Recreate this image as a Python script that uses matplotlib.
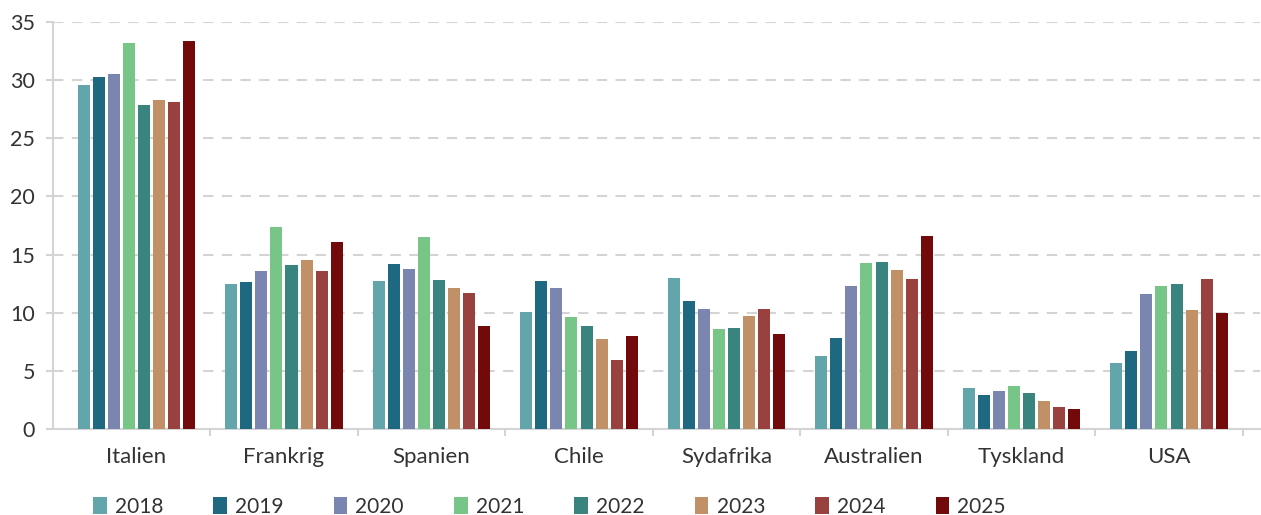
import numpy as np
import matplotlib
matplotlib.use("Agg")
import matplotlib.pyplot as plt

# data
countries = ["Italien", "Frankrig", "Spanien", "Chile", "Sydafrika", "Australien", "Tyskland", "USA"]
years = ["2018", "2019", "2020", "2021", "2022", "2023", "2024", "2025"]

v2018 = [29.6, 12.5, 12.7, 10.1, 13.0, 6.3, 3.5, 5.7]
v2019 = [30.3, 12.6, 14.2, 12.7, 11.0, 7.8, 2.9, 6.7]
v2020 = [30.5, 13.6, 13.8, 12.1, 10.3, 12.3, 3.3, 11.6]
v2021 = [33.2, 17.4, 16.5, 9.6, 8.6, 14.3, 3.7, 12.3]
v2022 = [27.9, 14.1, 12.8, 8.9, 8.7, 14.4, 3.1, 12.5]
v2023 = [28.3, 14.5, 12.1, 7.7, 9.7, 13.7, 2.4, 10.2]
v2024 = [28.1, 13.6, 11.7, 5.9, 10.3, 12.9, 1.9, 12.9]
v2025 = [33.4, 16.1, 8.9, 8.0, 8.2, 16.6, 1.7, 10.0]
series = [v2018, v2019, v2020, v2021, v2022, v2023, v2024, v2025]

colors = ["#62A6AC", "#1F6882", "#7A85B0", "#77C688", "#3A8480", "#C19066", "#98413F", "#720A0B"]

plt.rcParams['font.family'] = ['Lato', 'DejaVu Sans']
text_color = "#333333"
grid_color = "#D4D4D4"

fig = plt.figure(figsize=(12.61, 5.15), dpi=100)
ax = fig.add_axes([53 / 1261, 86 / 515, 1207 / 1261, 407 / 515])

x = np.arange(len(countries))
pitch = 0.1025
for i, (vals, col, yr) in enumerate(zip(series, colors, years)):
    ax.bar(x + (i - 3.5) * pitch, vals, width=0.082, color=col, label=yr, zorder=3)

ax.set_ylim(0, 35)
ax.set_xlim(-0.566, 7.617)
ax.set_yticks(range(0, 36, 5))
ax.yaxis.grid(True, linestyle=(0, (5, 4)), color=grid_color, linewidth=1.5, zorder=0)

ax.set_xticks(x)
ax.set_xticklabels(countries)
ax.set_xticks(np.arange(0.5, 8, 1), minor=True)
ax.tick_params(axis='x', which='major', length=0, pad=13, labelsize=16, labelcolor=text_color)
ax.tick_params(axis='x', which='minor', length=5, width=1.5, color=grid_color)
ax.tick_params(axis='y', length=5, width=1.5, color=grid_color, pad=8, labelsize=15.5, labelcolor=text_color)

for s in ["top", "right"]:
    ax.spines[s].set_visible(False)
for s in ["left", "bottom"]:
    ax.spines[s].set_color(grid_color)
    ax.spines[s].set_linewidth(1.5)

fig.legend(loc='center left', bbox_to_anchor=(93 / 1261, 8 / 515), ncol=8, frameon=False,
           fontsize=15, labelcolor=text_color, handlelength=0.65, handleheight=0.85,
           handletextpad=0.4, columnspacing=2.4, borderpad=0, borderaxespad=0)

fig.savefig("out.png", dpi=100)
